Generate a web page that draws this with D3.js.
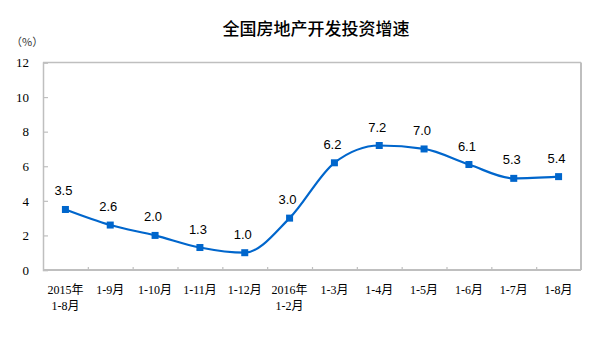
<!DOCTYPE html>
<html><head><meta charset="utf-8">
<script src="https://cdn.jsdelivr.net/npm/d3@7"></script>
<style>body{margin:0;background:#fff}svg{display:block}</style>
</head><body>
<svg id="c" width="600" height="358"></svg>
<script>
const categories = [["2015年","1-8月"],["1-9月"],["1-10月"],["1-11月"],["1-12月"],["2016年","1-2月"],["1-3月"],["1-4月"],["1-5月"],["1-6月"],["1-7月"],["1-8月"]];
const values = [3.5, 2.6, 2.0, 1.3, 1.0, 3.0, 6.2, 7.2, 7.0, 6.1, 5.3, 5.4];
const yTicks = [0, 2, 4, 6, 8, 10, 12];
const title = "全国房地产开发投资增速";
const unit = "（%）";

const svg = d3.select("#c");
const L = 43, R = 581, T = 62.5, B = 270;
const grey = "#bfbfbf", blue = "#0066cc";
const keys = categories.map((c, i) => i);
const x = d3.scaleBand().domain(keys).range([L, R]);
const xb = d3.scaleLinear().domain([0, categories.length]).range([L, R]);
const y = d3.scaleLinear().domain([0, 12]).range([B, T]);

svg.append("text").attr("x", 316).attr("y", 35).attr("text-anchor", "middle")
  .attr("font-family", "Noto Sans CJK SC").attr("font-weight", 500).attr("font-size", 17).text(title);
svg.append("text").attr("x", 11).attr("y", 46)
  .attr("font-family", "Noto Sans CJK SC").attr("font-size", 11).attr("fill", "#333").text(unit);

// frame top & right
svg.append("line").attr("x1", L).attr("x2", R).attr("y1", T).attr("y2", T).attr("stroke", grey).attr("stroke-width", 1.5);
svg.append("line").attr("x1", R).attr("x2", R).attr("y1", T).attr("y2", B).attr("stroke", grey).attr("stroke-width", 2);

// y axis
const ya = svg.append("g").attr("transform", `translate(${L},0)`)
  .call(d3.axisLeft(y).tickValues(yTicks).tickSize(-5).tickPadding(14).tickFormat(d3.format("d")));
ya.select(".domain").attr("stroke", grey).attr("stroke-width", 1.5);
ya.selectAll(".tick line").attr("stroke", grey).attr("stroke-width", 1.2);
ya.selectAll("text").attr("font-family", "Liberation Serif").attr("font-size", 13).attr("fill", "#000");

// x axis boundaries ticks
const xa = svg.append("g").attr("transform", `translate(0,${B})`)
  .call(d3.axisBottom(xb).tickValues(d3.range(1, categories.length)).tickSize(-3).tickFormat(""));
xa.select(".domain").attr("stroke", grey).attr("stroke-width", 2).attr("d", `M${L},0H${R}`);
xa.selectAll(".tick line").attr("stroke", grey).attr("stroke-width", 1.2);

// x labels
const xl = svg.append("g").attr("transform", `translate(0,${B})`)
  .call(d3.axisBottom(x).tickSize(0).tickFormat(""));
xl.select(".domain").remove();
xl.selectAll(".tick").each(function(d) {
  const t = d3.select(this).append("text").attr("text-anchor", "middle")
    .attr("font-family", "Liberation Serif, Noto Sans CJK SC").attr("font-size", 12).attr("fill", "#000");
  categories[d].forEach((s, j) => t.append("tspan").attr("x", 0).attr("y", 24 + j * 16).text(s));
});

// line
const line = d3.line().x((d, i) => x(i) + x.bandwidth() / 2).y(d => y(d)).curve(d3.curveMonotoneX);
svg.append("path").datum(values).attr("d", line).attr("fill", "none").attr("stroke", blue).attr("stroke-width", 2.2);
svg.selectAll("rect.m").data(values).join("rect").attr("class", "m")
  .attr("x", (d, i) => x(i) + x.bandwidth() / 2 - 3.5).attr("y", d => y(d) - 3.5)
  .attr("width", 7).attr("height", 7).attr("fill", blue);
svg.selectAll("text.v").data(values).join("text").attr("class", "v")
  .attr("x", (d, i) => x(i) + x.bandwidth() / 2 - 2).attr("y", d => y(d) - 14)
  .attr("text-anchor", "middle").attr("font-family", "Liberation Sans, Arial").attr("font-size", 13).attr("fill", "#000")
  .text(d => d.toFixed(1));
</script>
</body></html>
